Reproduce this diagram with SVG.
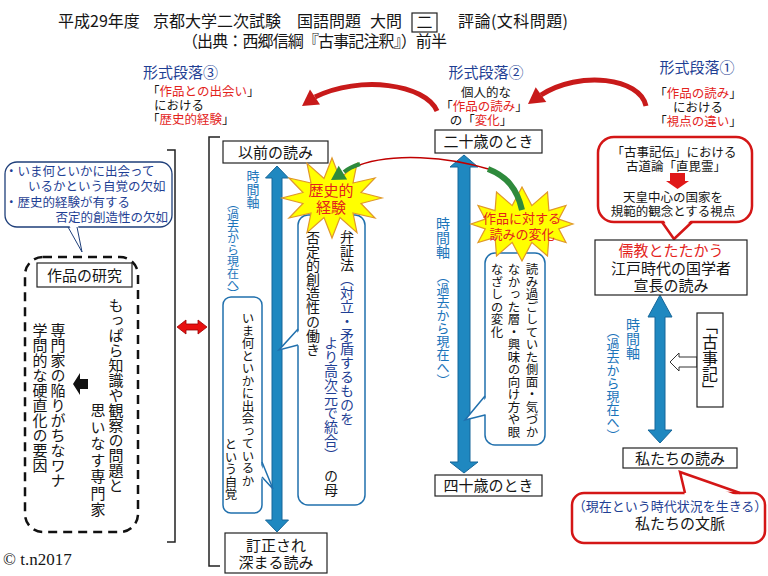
<svg xmlns="http://www.w3.org/2000/svg" width="768" height="576" viewBox="0 0 768 576">
<defs>
<style>
text { font-family: "Noto Sans CJK JP", "Noto Sans", sans-serif; fill: #151515; }
.t16 { font-size: 16px; }
.t15 { font-size: 15px; }
.t14 { font-size: 14px; }
.t13 { font-size: 13px; }
.t125 { font-size: 12.5px; }
.navy { fill: #1f3f94; }
.red { fill: #e3231c; }
.blue { fill: #1b74ba; }
.v { writing-mode: vertical-rl; }
.vp { font-feature-settings: "vpal"; }
.mid { text-anchor: middle; }
.box { fill: #fff; stroke: #222; stroke-width: 1.2; }
.barrow { fill: #1f88c0; stroke: #16679a; stroke-width: 1; }
.bubble { fill: #fff; stroke: #2070ad; stroke-width: 1.5; }
.rbubble { fill: #fff; stroke: #d41616; stroke-width: 2.5; }
.star { fill: #ffff00; stroke: #e0982a; stroke-width: 1.2; }
.rarc { fill: none; stroke: #c81a1a; stroke-width: 5; }
</style>
</defs>
<rect width="768" height="576" fill="#fff"/>

<g id="title">
  <text class="t16" x="58" y="27">平成29年度</text>
  <text class="t16" x="153" y="27">京都大学二次試験</text>
  <text class="t16" x="297" y="27">国語問題</text>
  <text class="t16" x="370" y="27">大問</text>
  <rect x="412" y="13" width="25" height="19" fill="none" stroke="#222" stroke-width="1.2"/>
  <text class="t16 mid" x="424.5" y="28">二</text>
  <text class="t16" x="458" y="27" textLength="110">評論(文科問題)</text>
  <text class="t16" x="182" y="47" textLength="265">（出典：西郷信綱『古事記注釈』）前半</text>
</g>

<g id="para3">
  <text class="t15 navy" x="143" y="78">形式段落③</text>
  <text class="t125" x="147" y="95.5">「<tspan class="red">作品との出会い</tspan>」</text>
  <text class="t125" x="154" y="109.5">における</text>
  <text class="t125" x="147" y="123.5">「<tspan class="red">歴史的経験</tspan>」</text>
</g>
<g id="para2">
  <text class="t15 navy mid" x="486" y="78">形式段落②</text>
  <text class="t125 mid" x="486" y="97">個人的な</text>
  <text class="t125 mid" x="484" y="111">「<tspan class="red">作品の読み</tspan>」</text>
  <text class="t125 mid" x="481" y="125">の「<tspan class="red">変化</tspan>」</text>
</g>
<g id="para1">
  <text class="t15 navy mid" x="697" y="73">形式段落①</text>
  <text class="t125 mid" x="698" y="97.5">「<tspan class="red">作品の読み</tspan>」</text>
  <text class="t125 mid" x="698" y="111.5">における</text>
  <text class="t125 mid" x="698" y="125.5">「<tspan class="red">視点の違い</tspan>」</text>
</g>

<g id="connectors">
  <!-- red curved arrows -->
  <path class="rarc" d="M646,106 C640,78 580,70 541,95"/>
  <polygon points="528,104 546.3,101.9 535.7,87.3" fill="#c81a1a"/>
  <path class="rarc" d="M437,111 C425,84 360,75 315,97"/>
  <polygon points="302,106 320,104.5 310,89.6" fill="#c81a1a"/>
  <!-- brackets -->
  <path d="M167,150 H175 V542 H167" fill="none" stroke="#222" stroke-width="1.5"/>
  <path d="M220,137 H209 V566 H220" fill="none" stroke="#222" stroke-width="1.5"/>
  <!-- red double arrow -->
  <polygon points="177,327 186,320 186,324 198,324 198,320 207,327 198,334 198,330 186,330 186,334" fill="#e81010" stroke="#9a0000" stroke-width="0.8"/>
  <!-- blue time arrows -->
  <polygon class="barrow" points="277,166 288.5,178 282,178 282,520 288.5,520 277,532 265.5,520 272,520 272,178 265.5,178"/>
  <polygon class="barrow" points="464,155 478,167 470,167 470,462 478,462 464,473 450,462 458,462 458,167 450,167"/>
  <polygon class="barrow" points="660,295 672,317 665,317 665,430 672,430 660,443 648,430 655,430 655,317 648,317"/>
  <!-- white arrow from Kojiki -->
  <polygon points="670,362 679,353 679,357 697,357 697,367 679,367 679,371" fill="#fff" stroke="#333" stroke-width="1"/>
  <!-- black arrow in dashed box -->
  <polygon points="73,384 80,373 80,379 88,379 88,389 80,389 80,395" fill="#111"/>
</g>

<g id="callout-left">
  <rect x="5" y="162" width="167" height="65" rx="12" fill="#fff" stroke="#1f3f7a" stroke-width="1.3"/>
  <polygon points="69,225 78,225 82,251" fill="#fff"/>
  <polyline points="68,227 82,252 77,227" fill="none" stroke="#1f3f7a" stroke-width="1"/>
  <text class="t125 navy" x="5" y="176">・いま何といかに出会って</text>
  <text class="t125 navy" x="28" y="191">いるかという自覚の欠如</text>
  <text class="t125 navy" x="5" y="207">・歴史的経験が有する</text>
  <text class="t125 navy" x="168" y="222" text-anchor="end">否定的創造性の欠如</text>
</g>

<g id="study">
  <rect x="25" y="257" width="113" height="275" rx="18" fill="none" stroke="#111" stroke-width="2.5" stroke-dasharray="9 6"/>
  <rect class="box" x="37" y="263" width="95" height="24"/>
  <text class="t15 mid" x="84.5" y="281">作品の研究</text>
  <text class="t15 v" x="116" y="298">もっぱら知識や観察の問題と</text>
  <text class="t15 v" x="98" y="403" style="letter-spacing:1.5px">思いなす専門家</text>
  <text class="t15 v" x="58" y="323">専門家の陥りがちなワナ</text>
  <text class="t15 v" x="40" y="323">学問的な硬直化の要因</text>
</g>

<g id="before">
  <rect class="box" x="223" y="141" width="105" height="22"/>
  <text class="t15 mid" x="275.5" y="158">以前の読み</text>
  <text class="t13 v blue" x="253" y="170">時間軸</text>
  <text class="v vp blue" x="233" y="203" style="font-size:12px">（過去から現在へ）</text>
</g>

<g id="bubble-awareness">
  <rect class="bubble" x="223" y="297" width="39" height="216" rx="8"/>
  <polygon points="260,463 260,477 273,489" fill="#fff"/>
  <polyline points="262,462 273,489 262,477" fill="none" stroke="#2070ad" stroke-width="1.5"/>
  <text class="t125 v" x="248" y="312">いま何といかに出会っているか</text>
  <text class="t125 v" x="231" y="438">という自覚</text>
</g>

<g id="bubble-dialectic">
  <rect class="bubble" x="298" y="215" width="67" height="290" rx="10"/>
  <polygon points="300,330 300,345 279,350" fill="#fff"/>
  <polyline points="298,329 279,350 298,345" fill="none" stroke="#2070ad" stroke-width="1.5"/>
  <text class="t14 v" x="347" y="230">弁証法<tspan class="navy">（対立・矛盾するものを</tspan></text>
  <text class="t14 v navy" x="331" y="336">より高次元で統合）</text>
  <text class="t14 v" x="331" y="469">の母</text>
  <text class="t14 v" x="313" y="231">否定的創造性の働き</text>
</g>

<g id="star-history">
  <polygon class="star" points="382,198 361,203.5 375,218 353,213 357,232.6 340,217.5 332,238 324,217.5 307,232.6 311,213 289,218 303,203.5 282,198 303,192.5 289,178 311,183 307,163.4 324,178.5 332,158 340,178.5 357,163.4 353,183 375,178 361,192.5"/>
  <text class="t15 red mid" x="331" y="196">歴史的</text>
  <text class="t15 red mid" x="331" y="213">経験</text>
</g>

<g id="age20">
  <rect class="box" x="435" y="130" width="107" height="23"/>
  <text class="t15 mid" x="488.5" y="147">二十歳のとき</text>
  <text class="t14 v blue" x="443" y="217">時間軸</text>
  <text class="t13 v blue" x="443" y="270">（過去から現在へ）</text>
</g>

<g id="bubble-change">
  <rect class="bubble" x="485" y="253" width="60" height="192" rx="10"/>
  <polygon points="487,397 487,414 465,420" fill="#fff"/>
  <polyline points="485,396 465,420 485,415" fill="none" stroke="#2070ad" stroke-width="1.5"/>
  <text class="t125 v" x="532" y="263">読み過ごしていた側面・気づか</text>
  <text class="t125 v" x="514" y="263">なかった層・興味の向け方や眼</text>
  <text class="t125 v" x="497" y="263">なざしの変化</text>
</g>

<g id="star-change">
  <polygon class="star" points="573,224 558.7,228.9 566,242.5 548.9,237.4 547.5,256 531.8,242.4 522,261 512.2,242.4 496.5,256 495.1,237.4 478,242.5 485.3,228.9 471,224 485.3,219.1 478,205.5 495.1,210.6 496.5,192 512.2,205.6 522,187 531.8,205.6 547.5,192 548.9,210.6 566,205.5 558.7,219.1"/>
  <text class="t13 red mid" x="522" y="223">作品に対する</text>
  <text class="t13 red mid" x="522" y="239">読みの変化</text>
</g>

<g id="green-arrow">
  <path d="M492,170 C450,157 390,151 352,168" fill="none" stroke="#c00000" stroke-width="1.5"/>
  <path d="M522,210 C517,188 506,176 488,169" fill="none" stroke="#2e8a3c" stroke-width="6"/>
  <path d="M360,164 C354,166 349,168 344,172" fill="none" stroke="#2e8a3c" stroke-width="4"/>
  <polygon points="331,180 347.1,179.4 338.7,165.8" fill="#2e8a3c"/>
</g>

<g id="age40">
  <rect class="box" x="435" y="475" width="107" height="21"/>
  <text class="t15 mid" x="488.5" y="491">四十歳のとき</text>
</g>

<g id="callout-norinaga">
  <rect class="rbubble" x="598" y="137" width="154" height="85" rx="16"/>
  <polygon points="663,219 692,219 674,238" fill="#fff"/>
  <polyline points="662,222 674,239 692,222" fill="none" stroke="#d41616" stroke-width="2.5"/>
  <text class="t125 mid" x="674" y="156.5">「古事記伝」における</text>
  <text class="t125 mid" x="676" y="170.5">古道論「直毘霊」</text>
  <polygon points="670,173 685,173 685,181 689,181 677.5,189 666,181 670,181" fill="#e01818"/>
  <text class="t125 mid" x="673" y="201.5">天皇中心の国家を</text>
  <text class="t125 mid" x="673" y="215.5">規範的観念とする視点</text>
</g>

<g id="norinaga">
  <rect class="box" x="595" y="240" width="152" height="55"/>
  <text class="t15 red mid" x="671" y="256">儒教とたたかう</text>
  <text class="t15 mid" x="671" y="274">江戸時代の国学者</text>
  <text class="t15 mid" x="671" y="291">宣長の読み</text>
</g>

<g id="right-axis">
  <text class="t14 v blue" x="633" y="318">時間軸</text>
  <text class="t13 v blue" x="613" y="325">（過去から現在へ）</text>
</g>

<g id="kojiki">
  <rect class="box" x="697" y="313" width="26" height="94"/>
  <text class="v" x="710" y="318" style="font-size:16px">「古事記」</text>
</g>

<g id="our-reading">
  <rect class="box" x="623" y="448" width="114" height="20"/>
  <text class="t15 mid" x="680" y="464">私たちの読み</text>
</g>

<g id="callout-context">
  <rect class="rbubble" x="572" y="493" width="193" height="50" rx="12"/>
  <polygon points="685,496 738,496 680,473" fill="#fff"/>
  <polyline points="685,493 680,472 740,493" fill="none" stroke="#d41616" stroke-width="2.5"/>
  <text class="t13 navy mid" x="670" y="511">（現在という時代状況を生きる）</text>
  <text class="t15 mid" x="680" y="529">私たちの文脈</text>
</g>

<g id="after">
  <rect class="box" x="225" y="533" width="102" height="40"/>
  <text class="t15 mid" x="276" y="551">訂正され</text>
  <text class="t15 mid" x="276" y="568">深まる読み</text>
</g>

<text x="3" y="565" style="font-family:'Liberation Serif',serif;font-size:17px">© t.n2017</text>
</svg>
